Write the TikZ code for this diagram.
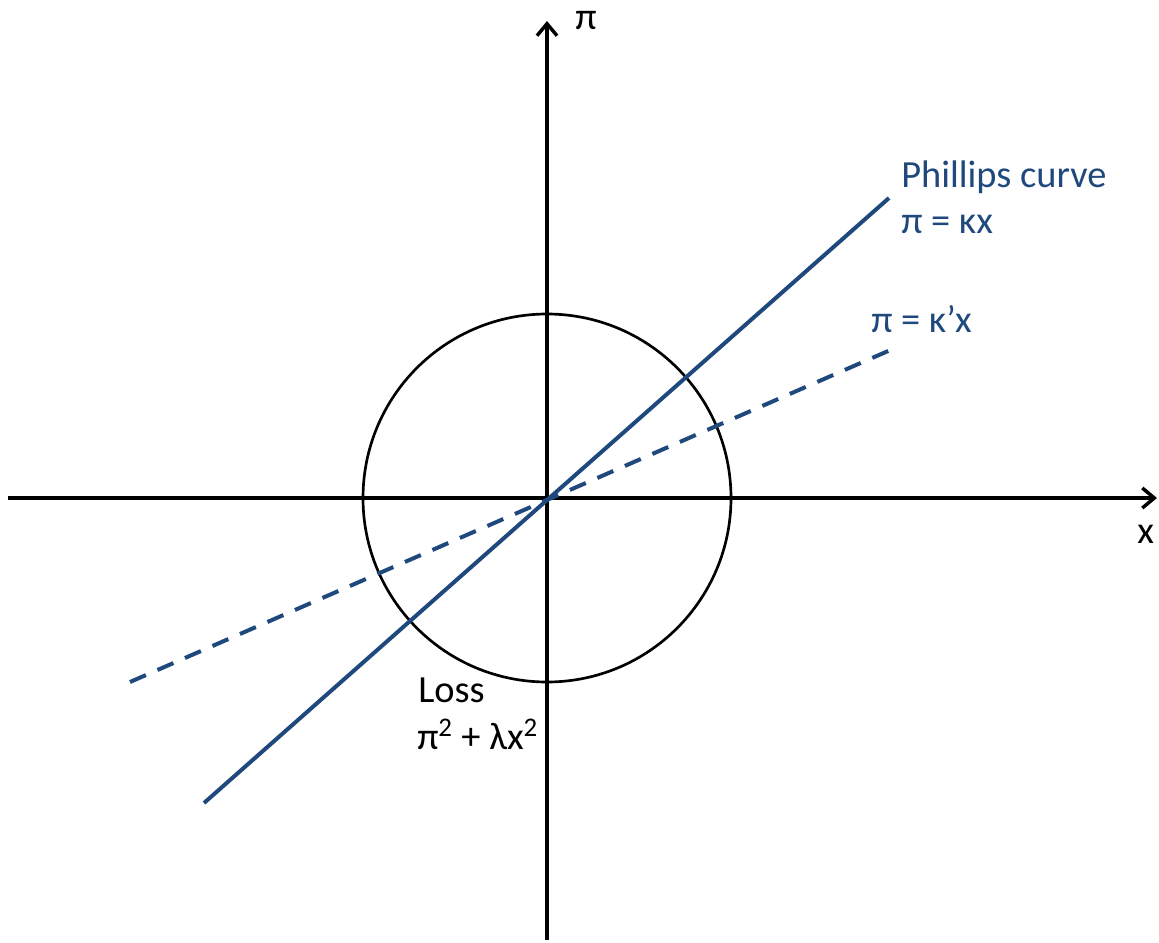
\documentclass[tikz,border=0pt]{standalone}
\usepackage{fontspec}
\setmainfont{Carlito}
\usetikzlibrary{arrows.meta}
\definecolor{curveblue}{HTML}{1F497D}

\begin{document}
\begin{tikzpicture}[
        x=0.75pt, y=-0.75pt,
        % axes and labels
        axis/.style={
            line width=2.6pt,
            -{Straight Barb[length=9pt, width=15pt, line width=2.6pt]}
        },
        label/.style={
            anchor=base west,
            inner sep=0pt,
            font=\fontsize{28.8}{33}\selectfont
        },
        bluelabel/.style={label, text=curveblue},
        pcurve/.style={draw=curveblue, line width=3pt},
        pdashed/.style={pcurve, dash pattern=on 13pt off 9.5pt}
        ]

        \useasboundingbox (0,0) rectangle (1159,942);

        \coordinate (origin) at (547,498);
        \coordinate (xleft) at (8,498);
        \coordinate (xright) at (1157,498);
        \coordinate (ybottom) at (547,940);
        \coordinate (ytop) at (547,21);

        \node [draw, circle, line width=2pt, minimum size=276pt, inner sep=0pt] (loss) at (origin) {};

        \draw [axis] (xleft) -- (xright);
        \draw [axis] (ybottom) -- (ytop);

        \coordinate (pc_low) at (204,803);
        \coordinate (pc_high) at (889,198);
        \draw [pcurve] (pc_low) -- (pc_high);

        \coordinate (pd_low) at (130,682);
        \coordinate (pd_high) at (895,348);
        \draw [pdashed] (pd_low) -- (pd_high);

        \node [label] (pi_label) at (575,30) {π};
        \node [label] (x_label) at (1137,543) {x};
        \node [bluelabel] (phillips) at (901,187) {Phillips curve};
        \node [bluelabel] (kappa) at (901,233) {π = κx};
        \node [bluelabel] (kappa2) at (871,332) {π = κ’x};
        \node [label] (loss_label) at (418,702) {Loss};
        \node [label] (loss_eq) at (417,749) {π\textsuperscript{2} + λx\textsuperscript{2}};
\end{tikzpicture}
\end{document}
